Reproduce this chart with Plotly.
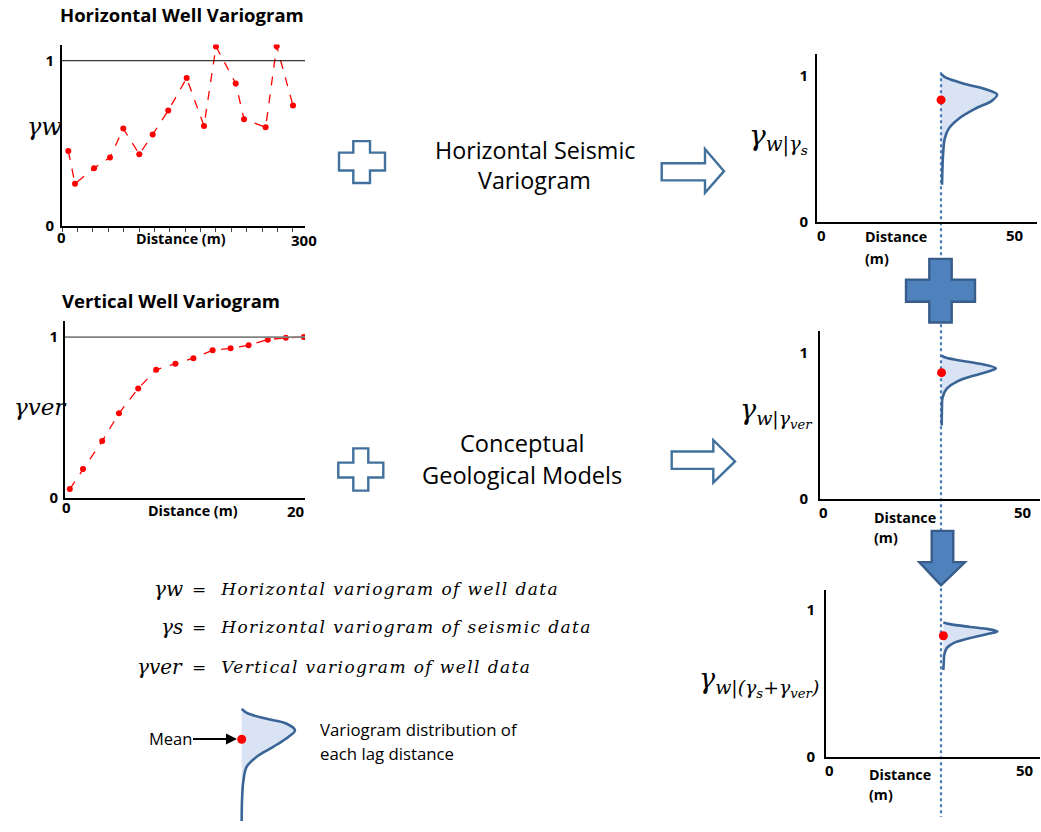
import plotly.graph_objects as go

W, H = 1041, 832
SANS = "Open Sans"
SERIF = "DejaVu Serif"
BLUE_LINE = "#3a6496"
BLUE_DOT = "#4a7ebb"
FILL = "rgba(68,114,196,0.2)"
RED = "#ff0000"

# ---------------- data ----------------
hw_lag = [8.2, 16.9, 41.6, 62.3, 79.6, 100.4, 117.8, 138.0, 161.9, 184.4,
          200.0, 225.6, 236.4, 264.5, 278.8, 300.0]
hw_gamma = [0.454, 0.257, 0.351, 0.415, 0.590, 0.435, 0.554, 0.699, 0.895, 0.606,
            1.086, 0.863, 0.646, 0.598, 1.088, 0.729]

vw_lag = [0.4, 1.5, 3.1, 4.5, 6.1, 7.6, 9.2, 10.7, 12.3, 13.8, 15.3, 16.9, 18.4, 19.9]
vw_gamma = [0.055, 0.179, 0.353, 0.526, 0.680, 0.797, 0.834, 0.869, 0.918, 0.930,
            0.949, 0.984, 0.996, 1.0]

sill = 1.0
lag_at = 30  # lag distance whose variogram distribution is drawn on the right

# distribution outlines (x = lag + density, y = variogram value)
r1_x = [30.07, 31.04, 35.8, 40.65, 43.55, 42.34, 38.23, 34.28, 31.86, 30.9, 30.48, 30.24]
r1_y = [1.012, 0.989, 0.944, 0.910, 0.871, 0.830, 0.774, 0.706, 0.638, 0.570, 0.457, 0.253]
r1_mean = 0.835

r2_x = [30.0, 31.2, 34.5, 39.5, 43.4, 41.9, 37.8, 33.7, 31.2, 30.25, 30.1, 30.05]
r2_y = [0.984, 0.968, 0.950, 0.927, 0.896, 0.878, 0.844, 0.803, 0.753, 0.696, 0.617, 0.503]
r2_mean = 0.866

r3_x = [30.0, 31.7, 36.8, 41.5, 43.8, 41.5, 36.8, 32.6, 30.9, 30.25, 30.1, 30.0]
r3_y = [0.915, 0.904, 0.885, 0.870, 0.854, 0.838, 0.809, 0.775, 0.742, 0.697, 0.641, 0.591]
r3_mean = 0.825

# legend glyph (drawn in a pixel-unit helper axis)
lg_x = [241.7, 246.7, 266.7, 286.7, 295.0, 288.3, 273.3, 256.7, 246.7, 243.3, 242.0, 241.7]
lg_y = [716.7, 720.7, 726.7, 731.7, 738.3, 745.0, 755.0, 765.0, 775.0, 790.0, 810.0, 830.0]
lg_base = 241.7
lg_mean_y = 747.3

tick_vals = [0, 1]
tick_text = ["0", "1"]


def fx(x):
    return x / W


def fy(y):
    return 1 - y / H


fig = go.Figure()

# ---------- left charts ----------
fig.add_trace(go.Scatter(x=hw_lag, y=hw_gamma, mode="lines+markers",
                         line=dict(color=RED, width=1.3, dash="dash"),
                         marker=dict(color=RED, size=6), xaxis="x", yaxis="y",
                         showlegend=False, hoverinfo="skip"))
fig.add_trace(go.Scatter(x=vw_lag, y=vw_gamma, mode="lines+markers",
                         line=dict(color=RED, width=1.3, dash="dash"),
                         marker=dict(color=RED, size=6), xaxis="x2", yaxis="y2",
                         showlegend=False, hoverinfo="skip"))


def add_dist(cx, cy, mean, xa, ya, base):
    fig.add_trace(go.Scatter(x=[base] * len(cy), y=cy, mode="lines",
                             line=dict(width=0, color="rgba(0,0,0,0)"),
                             xaxis=xa, yaxis=ya, showlegend=False, hoverinfo="skip"))
    fig.add_trace(go.Scatter(x=cx, y=cy, mode="lines", fill="tonextx", fillcolor=FILL,
                             line=dict(color=BLUE_LINE, width=2.6, shape="spline", smoothing=1.0),
                             xaxis=xa, yaxis=ya, showlegend=False, hoverinfo="skip"))
    fig.add_trace(go.Scatter(x=[base], y=[mean], mode="markers",
                             marker=dict(color=RED, size=9),
                             xaxis=xa, yaxis=ya, showlegend=False, hoverinfo="skip"))


add_dist(r1_x, r1_y, r1_mean, "x3", "y3", lag_at)
add_dist(r2_x, r2_y, r2_mean, "x4", "y4", lag_at)
add_dist(r3_x, r3_y, r3_mean, "x5", "y5", lag_at)
add_dist(lg_x, lg_y, lg_mean_y, "x6", "y6", lg_base)

TICKFONT = dict(family=SANS, size=15, color="black", weight="bold")


def xax(x0, x1, rng, anchor, **kw):
    d = dict(domain=[fx(x0), fx(x1)], range=rng, anchor=anchor, showgrid=False,
             zeroline=False, showline=True, linecolor="black", linewidth=2,
             showticklabels=False, ticks="", fixedrange=True)
    d.update(kw)
    return d


def yax(ytop, ybot, rng, anchor, standoff, **kw):
    d = dict(domain=[fy(ybot), fy(ytop)], range=rng, anchor=anchor, showgrid=False,
             zeroline=False, showline=True, linecolor="black", linewidth=2,
             tickvals=tick_vals, ticktext=tick_text, tickfont=TICKFONT, ticks="",
             ticklabelstandoff=standoff, fixedrange=True)
    d.update(kw)
    return d


fig.update_layout(
    xaxis=xax(62, 305, [0, 315.6], "y", tickvals=[0, 300], ticks="outside", ticklen=4,
              tickcolor="#444", minor=dict(tickmode="linear", tick0=0, dtick=20,
                                            ticks="outside", ticklen=4, tickcolor="#444")),
    yaxis=yax(45, 228.7, [0, 1.098], "x", 3),
    xaxis2=xax(65, 305, [0, 20], "y2"),
    yaxis2=yax(325, 503.3, [0, 1.097], "x2", 2),
    xaxis3=xax(817, 1037, [0, 53.2], "y3"),
    yaxis3=yax(55, 224, [0, 1.147], "x3", 4),
    xaxis4=xax(820, 1040, [0, 54.3], "y4"),
    yaxis4=yax(335, 504, [0, 1.150], "x4", 7),
    xaxis5=xax(826, 1040, [0, 54.7], "y5"),
    yaxis5=yax(596.7, 765, [0, 1.135], "x5", 6),
    xaxis6=dict(domain=[fx(200), fx(320)], range=[200, 320], anchor="y6", visible=False,
                fixedrange=True),
    yaxis6=dict(domain=[fy(832), fy(700)], range=[832, 700], anchor="x6", visible=False,
                fixedrange=True),
)

shapes = []
# sill lines
shapes.append(dict(type="line", xref="x domain", yref="y", x0=0, x1=1, y0=sill, y1=sill,
                   line=dict(color="black", width=1)))
shapes.append(dict(type="line", xref="x2 domain", yref="y2", x0=0, x1=1, y0=sill, y1=sill,
                   line=dict(color="#808080", width=1.6)))
# dotted connector
shapes.append(dict(type="line", xref="paper", yref="paper", x0=fx(941), x1=fx(941),
                   y0=fy(73), y1=fy(826), layer="below",
                   line=dict(color=BLUE_DOT, width=2.2, dash="dot")))


def path(pts):
    s = "M " + " L ".join(f"{fx(a):.5f},{fy(b):.5f}" for a, b in pts) + " Z"
    return s


def plus(xl, xr, yt, yb, hl, hr, ht, hb):
    return [(xl, yt), (xr, yt), (xr, ht), (hr, ht), (hr, hb), (xr, hb), (xr, yb),
            (xl, yb), (xl, hb), (hl, hb), (hl, ht), (xl, ht)]


OUT = dict(color="#41719c", width=2.4)
shapes.append(dict(type="path", xref="paper", yref="paper",
                   path=path(plus(353.3, 370, 142.7, 185, 339, 385, 154.3, 172.3)),
                   fillcolor="white", line=OUT))
shapes.append(dict(type="path", xref="paper", yref="paper",
                   path=path(plus(353.3, 368.3, 453.3, 496, 338.3, 383.3, 467.7, 482.7)),
                   fillcolor="white", line=OUT))
shapes.append(dict(type="path", xref="paper", yref="paper",
                   path=path([(661.7, 165), (705, 165), (705, 150.7), (724, 173), (705, 195),
                              (705, 182.3), (661.7, 182.3)]),
                   fillcolor="white", line=OUT))
shapes.append(dict(type="path", xref="paper", yref="paper",
                   path=path([(671.7, 456.5), (713.3, 456.5), (713.3, 445), (735, 466.5),
                              (713.3, 488), (713.3, 474), (671.7, 474)]),
                   fillcolor="white", line=OUT))
SOLID = dict(color="#385d8a", width=2.4)
shapes.append(dict(type="path", xref="paper", yref="paper",
                   path=path(plus(929.3, 951.7, 261.7, 326, 906, 975, 282.7, 305)),
                   fillcolor="#4f81bd", line=SOLID))
shapes.append(dict(type="path", xref="paper", yref="paper",
                   path=path([(931.7, 536.7), (953.3, 536.7), (953.3, 568.3), (965, 568.3),
                              (941, 591.7), (919.3, 568.3), (931.7, 568.3)]),
                   fillcolor="#4f81bd", line=SOLID))
fig.update_layout(shapes=shapes)

anns = []


def ann(text, x, y, size, family=SANS, bold=False, xanchor="center", color="black"):
    f = dict(family=family, size=size, color=color)
    if bold:
        f["weight"] = "bold"
    anns.append(dict(text=text, x=fx(x), y=fy(y), xref="paper", yref="paper",
                     xanchor=xanchor, yanchor="middle", showarrow=False, font=f))


# titles
ann("Horizontal Well Variogram", 182, 15, 18.5, bold=True)
ann("Vertical Well Variogram", 171, 304, 18.5, bold=True)
# left axis texts
ann("Distance (m)", 181, 241, 14.3, bold=True)
ann("0", 61.7, 240, 15, bold=True)
ann("300", 304, 243, 15, bold=True)
ann("Distance (m)", 193, 516, 14.3, bold=True)
ann("0", 66, 513, 15, bold=True)
ann("20", 296, 517, 15, bold=True)
# right axis texts
for (x0, y0), (x50, y50), (xd, yd), ym in [((821.7, 238), (1015, 238), (863, 239), 261),
                                           ((823, 518), (1023, 518), (871.7, 523), 543),
                                           ((829, 778), (1025, 778), (866.7, 783), 803)]:
    ann("0", x0, y0, 15, bold=True)
    ann("50", x50, y50, 15, bold=True)
    ann("Distance", xd, yd, 14.3, bold=True, xanchor="left")
    ann("(m)", xd, ym, 14.3, bold=True, xanchor="left")

# gamma labels
ann("<i>γw</i>", 25, 128, 24, family=SERIF, xanchor="left")
ann("<i>γver</i>", 12, 411, 23, family=SERIF, xanchor="left")
ann("<i>γ<sub>w|γ<sub>s</sub></sub></i>", 747, 140, 28, family=SERIF, xanchor="left")
ann("<i>γ<sub>w|γ<sub>ver</sub></sub></i>", 738, 418, 27, family=SERIF, xanchor="left")
ann("<i>γ<sub>w|(γ<sub>s</sub>+γ<sub>ver</sub>)</sub></i>", 697, 689, 27, family=SERIF,
    xanchor="left")

# middle texts
ann("Horizontal Seismic", 535, 152, 23.3)
ann("Variogram", 534, 182, 23.3)
ann("Conceptual", 521.7, 448, 23.6)
ann("Geological Models", 521.7, 480, 23.6)

# definitions
SP = "<span style='letter-spacing:1.4px'>"
defs = [("<i>γw</i>", "<i>" + SP + "=  Horizontal variogram of well data</span></i>", 595),
        ("<i>γs</i>", "<i>" + SP + "=  Horizontal variogram of seismic data</span></i>", 634),
        ("<i>γver</i>", "<i>" + SP + "=  Vertical variogram of well data</span></i>", 674)]
for sym, txt, yy in defs:
    ann(sym, 185, yy, 20, family=SERIF, xanchor="right")
    ann(txt, 190, yy, 17, family=SERIF, xanchor="left")

# legend texts
ann("Variogram distribution of", 318, 737, 16.8, xanchor="left")
ann("each lag distance", 318, 762, 16.8, xanchor="left")
anns.append(dict(text="Mean", x=237, y=747, xref="x6", yref="y6", ax=170, ay=747,
                 axref="x6", ayref="y6", showarrow=True, arrowhead=2, arrowsize=1.1,
                 arrowwidth=2, arrowcolor="black",
                 font=dict(family=SANS, size=16.5, color="black")))
fig.update_layout(annotations=anns)

fig.update_layout(width=W, height=H, margin=dict(l=0, r=0, t=0, b=0),
                  paper_bgcolor="white", plot_bgcolor="rgba(0,0,0,0)",
                  showlegend=False)

fig.write_html("out.html", config={"displayModeBar": False})
